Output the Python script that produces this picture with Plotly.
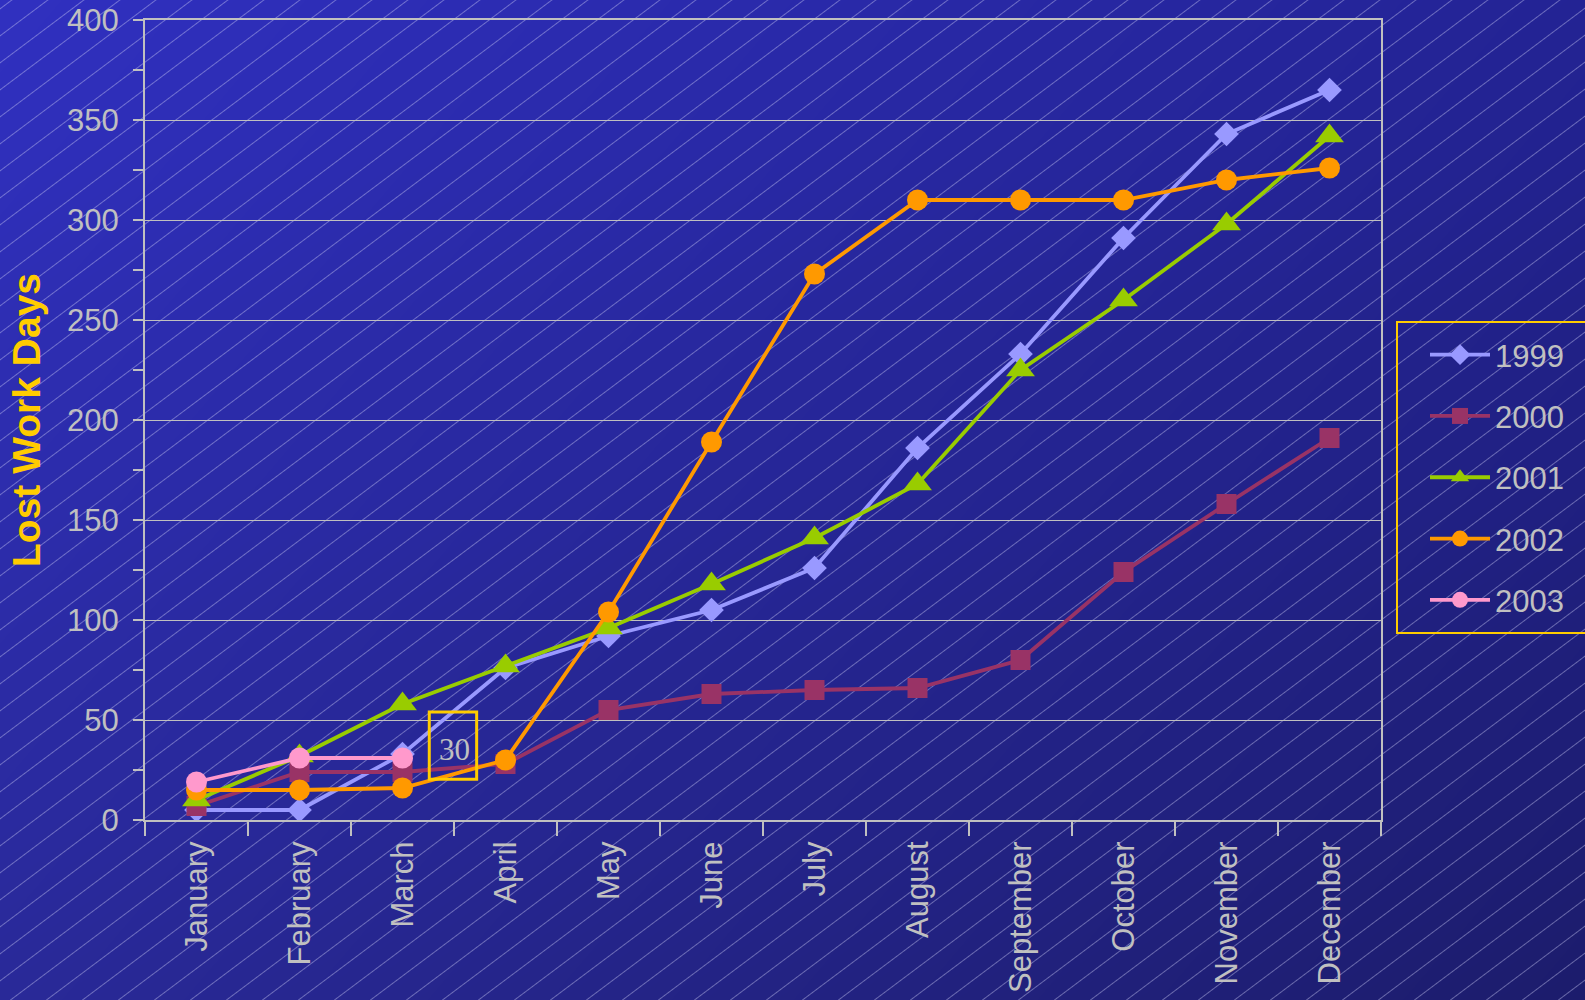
import base64
import struct
import zlib

import numpy as np
import plotly.graph_objects as go

# ---------------- data ----------------
months = ["January", "February", "March", "April", "May", "June", "July",
          "August", "September", "October", "November", "December"]
y1999 = [5, 5, 33, 76, 92, 105, 126, 186, 233, 291, 343, 365]
y2000 = [7, 24, 24, 28, 55, 63, 65, 66, 80, 124, 158, 191]
y2001 = [10, 32, 58, 77, 96, 118, 141, 168, 225, 260, 298, 342]
y2002 = [15, 15, 16, 30, 104, 189, 273, 310, 310, 310, 320, 326]
y2003 = [19, 31, 31]
callout_text = "30"
y_ticks = [0, 50, 100, 150, 200, 250, 300, 350, 400]

# ---------------- background image (gradient + diagonal hatch) ----------------
W, H = 1585, 1000
xx, yy = np.meshgrid(np.arange(W, dtype=float), np.arange(H, dtype=float))
tl = np.array([48.0, 48.0, 192.0])
dxc = np.array([-13.0, -13.0, -44.0]) / W
dyc = np.array([-7.0, -7.0, -40.0]) / H
img = tl[None, None, :] + xx[..., None] * dxc + yy[..., None] * dyc
P = 27.0
s = yy + 0.75 * xx
d = np.mod(s - 8.0, P)
dv = np.minimum(d, P - d) * 0.8
inten = np.clip(1.0 - dv, 0, 1) * 0.42
line_col = np.array([205.0, 205.0, 245.0])
img = img * (1 - inten[..., None]) + line_col * inten[..., None]
arr = np.clip(np.round(img), 0, 255).astype(np.uint8)


def png_bytes(a):
    h, w, _ = a.shape
    sub = np.empty_like(a)
    sub[:, 0] = a[:, 0]
    sub[:, 1:] = ((a[:, 1:].astype(np.int16) - a[:, :-1].astype(np.int16)) % 256).astype(np.uint8)
    raw = np.concatenate([np.ones((h, 1), np.uint8), sub.reshape(h, w * 3)], axis=1).tobytes()

    def chunk(t, dd):
        return struct.pack(">I", len(dd)) + t + dd + struct.pack(">I", zlib.crc32(t + dd) & 0xffffffff)

    return (b"\x89PNG\r\n\x1a\n" + chunk(b"IHDR", struct.pack(">IIBBBBB", w, h, 8, 2, 0, 0, 0))
            + chunk(b"IDAT", zlib.compress(raw, 9)) + chunk(b"IEND", b""))


bg_uri = "data:image/png;base64," + base64.b64encode(png_bytes(arr)).decode()

# ---------------- figure ----------------
L, R, T, B = 145, 204, 20, 180
PW, PH = W - L - R, H - T - B
GREY = "#C0C0C0"
FONT = "Arial, Liberation Sans, sans-serif"

series = [
    ("1999", y1999, "#9999FF", "diamond", 19),
    ("2000", y2000, "#993366", "square", 20),
    ("2001", y2001, "#99CC00", "triangle-up", 25),
    ("2002", y2002, "#FF9900", "circle", 21),
    ("2003", y2003, "#FF99CC", "circle", 21),
]

fig = go.Figure()
for name, vals, col, sym, sz in series:
    fig.add_trace(go.Scatter(
        x=months[:len(vals)], y=vals, name=name, mode="lines+markers",
        legendgroup=name,
        line=dict(color=col, width=3.8),
        marker=dict(symbol=sym, size=sz, color=col, line=dict(width=0)),
    ))

fig.update_layout(
    width=W, height=H,
    margin=dict(l=L, r=R, t=T, b=B, autoexpand=False),
    paper_bgcolor="#262690", plot_bgcolor="rgba(0,0,0,0)",
    font=dict(family=FONT, color=GREY, size=31),
    showlegend=True,
    legend=dict(
        x=(1425 - L) / PW, xanchor="left", y=(H - B - 328) / PH, yanchor="top",
        bgcolor="rgba(0,0,0,0)", borderwidth=0, itemwidth=60,
        font=dict(family=FONT, size=31, color=GREY),
        tracegroupgap=18,
    ),
    images=[dict(source=bg_uri, xref="paper", yref="paper",
                 x=-L / PW, y=1 + T / PH, sizex=W / PW, sizey=H / PH,
                 xanchor="left", yanchor="top", sizing="stretch", layer="below")],
)

fig.update_xaxes(
    type="category", categoryorder="array", categoryarray=months,
    range=[-0.5, 11.5], automargin=False,
    showline=True, linecolor=GREY, linewidth=2, mirror=True,
    ticks="outside", tickson="boundaries", ticklen=14, tickwidth=2, tickcolor=GREY,
    tickangle=-90, tickfont=dict(family=FONT, size=31, color=GREY), ticklabelstandoff=7,
    showgrid=False, zeroline=False,
)
fig.update_yaxes(
    range=[0, 400], tickvals=y_ticks, automargin=False,
    showline=True, linecolor=GREY, linewidth=2, mirror=True,
    ticks="outside", ticklen=10, tickwidth=2, tickcolor=GREY,
    minor=dict(dtick=25, ticks="outside", ticklen=10, tickwidth=2, tickcolor=GREY, showgrid=False),
    showgrid=True, gridcolor=GREY, gridwidth=1, zeroline=False,
    tickfont=dict(family=FONT, size=31, color=GREY), ticklabelstandoff=8,
    title=dict(text="<b>Lost Work Days</b>", font=dict(family=FONT, size=39, color="#FFCC00"), standoff=14),
)
# inner half of the crossing ticks on the value axis
fig.update_layout(yaxis2=dict(
    overlaying="y", anchor="x", side="left", range=[0, 400], tickvals=y_ticks,
    ticks="inside", ticklen=8, tickwidth=2, tickcolor=GREY, showticklabels=False,
    minor=dict(dtick=25, ticks="inside", ticklen=8, tickwidth=2, tickcolor=GREY, showgrid=False),
    showgrid=False, zeroline=False, showline=False,
))

# callout box with value label
fig.add_shape(type="rect", xref="x", yref="y", x0=2.26, x1=2.72, y0=20.4, y1=54,
              line=dict(color="#FFCC00", width=3), fillcolor="rgba(0,0,0,0)")
fig.add_annotation(x=2.5, y=35.5, xref="x", yref="y", text=callout_text, showarrow=False,
                   font=dict(family="Liberation Serif", size=31, color=GREY))

# legend frame
fig.add_shape(type="rect", xref="paper", yref="paper",
              x0=(1397 - L) / PW, x1=(1600 - L) / PW,
              y0=(H - B - 633) / PH, y1=(H - B - 322) / PH,
              line=dict(color="#FFCC00", width=2), fillcolor="rgba(0,0,0,0)")

fig.write_html("out.html", config={"displayModeBar": False},
               post_script="document.body.style.margin='0';document.body.style.overflow='hidden';")
